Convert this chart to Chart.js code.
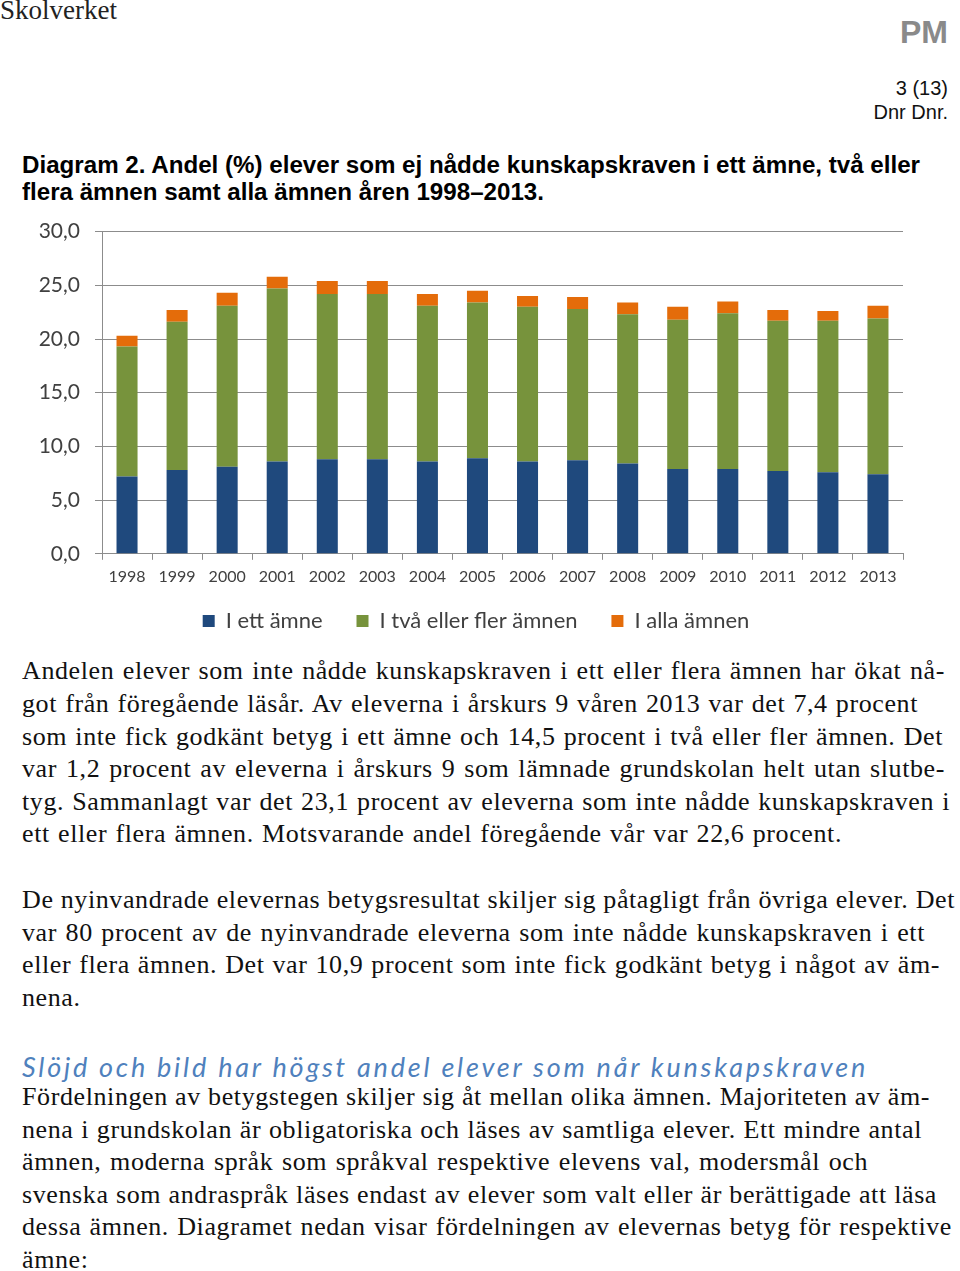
<!DOCTYPE html>
<html>
<head>
<meta charset="utf-8">
<script src="https://cdn.jsdelivr.net/npm/chart.js@4.4.1/dist/chart.umd.min.js"></script>
<style>
  body { margin: 0; width: 960px; height: 1271px; position: relative; background: #fff; overflow: hidden; }
  .abs { position: absolute; white-space: nowrap; }
  .line { position: absolute; left: 22px; white-space: nowrap; font: 26px "Liberation Serif", serif; color: #111; line-height: 30px; letter-spacing: 0.6px; }
  .hd { position: absolute; left: 22px; white-space: nowrap; font: bold 23px "Liberation Sans", Arial, sans-serif; color: #000; line-height: 28px; transform-origin: left center; }
  #chartBox { position: absolute; left: 0; top: 204px; width: 952px; height: 438px; }
</style>
</head>
<body>
<div class="abs" style="left:0;top:-5px;font:27px 'Liberation Serif', serif;color:#222;">Skolverket</div>
<div class="abs" style="right:12px;top:14px;font:bold 32px 'Liberation Sans', Arial, sans-serif;color:#8a8a8a;">PM</div>
<div class="abs" style="right:12px;top:77px;font:20px 'Liberation Sans', Arial, sans-serif;color:#111;">3 (13)</div>
<div class="abs" style="right:12px;top:101px;font:20px 'Liberation Sans', Arial, sans-serif;color:#111;">Dnr Dnr.</div>

<div class="hd" id="hd1" style="top:151px;">Diagram 2. Andel (%) elever som ej nådde kunskapskraven i ett ämne, två eller</div>
<div class="hd" id="hd2" style="top:178px;">flera ämnen samt alla ämnen åren 1998–2013.</div>

<div id="chartBox"><canvas id="chart"></canvas></div>

<div id="text"></div>

<script>
// chart data
const years = ["1998", "1999", "2000", "2001", "2002", "2003", "2004", "2005",
  "2006", "2007", "2008", "2009", "2010", "2011", "2012", "2013"];
const ettAmne = [7.2, 7.8, 8.1, 8.6, 8.8, 8.8, 8.6, 8.9, 8.6, 8.7, 8.4, 7.9, 7.9, 7.7, 7.6, 7.4];
const tvaEllerFler = [12.1, 13.8, 15.0, 16.1, 15.4, 15.4, 14.5, 14.5, 14.4, 14.1, 13.9, 13.9, 14.5, 14.0, 14.1, 14.5];
const allaAmnen = [1.0, 1.1, 1.2, 1.1, 1.2, 1.2, 1.1, 1.1, 1.0, 1.1, 1.1, 1.2, 1.1, 1.0, 0.9, 1.2];
const yTicks = [0, 5, 10, 15, 20, 25, 30];

const axisGrey = "#8c8c8c";
const labelGrey = "#404040";

// page text: [text, centre y, right edge (null = not justified)]
const textLines = [
  ["Andelen elever som inte nådde kunskapskraven i ett eller flera ämnen har ökat nå-", 672, 945],
  ["got från föregående läsår. Av eleverna i årskurs 9 våren 2013 var det 7,4 procent", 705, 918],
  ["som inte fick godkänt betyg i ett ämne och 14,5 procent i två eller fler ämnen. Det", 738, 943],
  ["var 1,2 procent av eleverna i årskurs 9 som lämnade grundskolan helt utan slutbe-", 770, 945],
  ["tyg. Sammanlagt var det 23,1 procent av eleverna som inte nådde kunskapskraven i", 803, 950],
  ["ett eller flera ämnen. Motsvarande andel föregående vår var 22,6 procent.", 835, 842],
  ["De nyinvandrade elevernas betygsresultat skiljer sig påtagligt från övriga elever. Det", 901, 955],
  ["var 80 procent av de nyinvandrade eleverna som inte nådde kunskapskraven i ett", 934, 925],
  ["eller flera ämnen. Det var 10,9 procent som inte fick godkänt betyg i något av äm-", 966, 940],
  ["nena.", 999, null],
  ["Fördelningen av betygstegen skiljer sig åt mellan olika ämnen. Majoriteten av äm-", 1098, 930],
  ["nena i grundskolan är obligatoriska och läses av samtliga elever. Ett mindre antal", 1131, 922],
  ["ämnen, moderna språk som språkval respektive elevens val, modersmål och", 1163, 868],
  ["svenska som andraspråk läses endast av elever som valt eller är berättigade att läsa", 1196, 937],
  ["dessa ämnen. Diagramet nedan visar fördelningen av elevernas betyg för respektive", 1228, 952],
  ["ämne:", 1261, null]
];

const textBox = document.getElementById("text");
textLines.forEach(([txt, yc, right]) => {
  const el = document.createElement("div");
  el.className = "line";
  el.textContent = txt;
  el.style.top = (yc - 16) + "px";
  textBox.appendChild(el);
  if (right) {
    const w = el.getBoundingClientRect().width;
    const spaces = (txt.match(/ /g) || []).length;
    el.style.wordSpacing = ((right - 22 - w) / spaces) + "px";
  }
});

// blue sub heading
const sub = document.createElement("div");
sub.className = "line";
sub.style.font = "italic 27px Lato, sans-serif";
sub.style.color = "#4f81bd";
sub.style.letterSpacing = "0px";
sub.textContent = "Slöjd och bild har högst andel elever som når kunskapskraven";
sub.style.top = (1066 - 16) + "px";
textBox.appendChild(sub);
{
  const w = sub.getBoundingClientRect().width;
  sub.style.letterSpacing = ((868 - 22 - w) / sub.textContent.length) + "px";
}

// squeeze the bold caption to its width
const hd1 = document.getElementById("hd1");
const hd2 = document.getElementById("hd2");
const sx = 898 / hd1.getBoundingClientRect().width;
hd1.style.transform = "scaleX(" + sx + ")";
hd2.style.transform = "scaleX(" + sx + ")";

// chart
const ctx = document.getElementById("chart").getContext("2d");
const chart = new Chart(ctx, {
  type: "bar",
  data: {
    labels: years,
    datasets: [
      { label: "I ett ämne", data: ettAmne, backgroundColor: "#1f497d", borderWidth: 0 },
      { label: "I två eller fler ämnen", data: tvaEllerFler, backgroundColor: "#77933c", borderWidth: 0 },
      { label: "I alla ämnen", data: allaAmnen, backgroundColor: "#e46c0a", borderWidth: 0 }
    ]
  },
  options: {
    responsive: true,
    maintainAspectRatio: false,
    animation: false,
    barPercentage: 0.42,
    categoryPercentage: 1,
    layout: { padding: 0 },
    plugins: {
      tooltip: { enabled: false },
      legend: {
        position: "bottom",
        labels: {
          boxWidth: 12,
          boxHeight: 12,
          padding: 17,
          color: labelGrey,
          font: { family: "Lato", size: 22 },
          // a bit more room between the items than the vertical padding
          generateLabels: (c) => {
            const items = Chart.defaults.plugins.legend.labels.generateLabels(c);
            items.forEach((it, i) => {
              if (i < items.length - 1) it.text += "\u00a0\u00a0\u00a0";
            });
            return items;
          }
        }
      }
    },
    scales: {
      x: {
        stacked: true,
        grid: { offset: true, drawOnChartArea: false, drawTicks: true, tickLength: 6, color: axisGrey },
        border: { color: axisGrey },
        ticks: { color: labelGrey, padding: 7, maxRotation: 0, font: { family: "Lato", size: 16 } }
      },
      y: {
        stacked: true,
        min: 0,
        max: 30,
        afterBuildTicks: (s) => { s.ticks = yTicks.map((v) => ({ value: v })); },
        afterFit: (s) => { s.width = 102; },
        grid: { color: axisGrey, tickLength: 7 },
        border: { color: axisGrey },
        ticks: {
          color: labelGrey,
          padding: 15,
          font: { family: "Lato", size: 21 },
          callback: (v) => v.toFixed(1).replace(".", ",")
        }
      },
      // empty right-hand gutter so the legend stays centred on the canvas
      gutter: {
        position: "right",
        grid: { display: false },
        border: { display: false },
        ticks: { display: false },
        afterFit: (s) => { s.width = 49; }
      }
    }
  }
});
</script>
</body>
</html>
